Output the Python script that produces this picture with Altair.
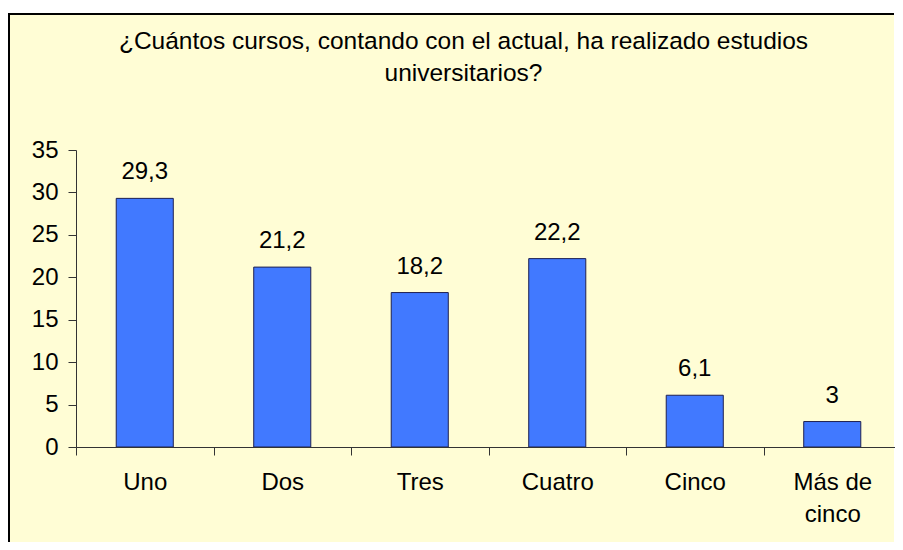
import altair as alt
import pandas as pd

categories = ["Uno", "Dos", "Tres", "Cuatro", "Cinco", "Más de cinco"]
values = [29.3, 21.2, 18.2, 22.2, 6.1, 3]
labels = ["29,3", "21,2", "18,2", "22,2", "6,1", "3"]
title_lines = ["¿Cuántos cursos, contando con el actual, ha realizado estudios",
               "universitarios?"]
y_ticks = [0, 5, 10, 15, 20, 25, 30, 35]

df = pd.DataFrame({"cat": categories, "val": values, "lab": labels})
frame_df = pd.DataFrame({"f": [0]})

FONT = "Liberation Sans"
BG = "#FFFDD5"
BAR = "#4179FF"
W, H = 825, 297
PAD_L, PAD_T, PAD_R = 68, 142, -6
SVG_H = 534
PAD_B = SVG_H - PAD_T - H

x_enc = alt.X(
    "cat:N", sort=categories,
    scale=alt.Scale(paddingInner=0, paddingOuter=0),
    axis=alt.Axis(
        title=None, labelAngle=0, tickBand="extent", tickSize=8,
        labelPadding=34, labelBaseline="alphabetic", labelLineHeight=32,
        labelFontSize=24, labelFont=FONT, labelColor="black",
        domainColor="#333333", tickColor="#333333", labelOverlap=False,
        labelExpr="datum.label == 'Más de cinco' ? ['Más de', 'cinco'] : datum.label",
        zindex=1,
    ),
)
y_enc = alt.Y(
    "val:Q", scale=alt.Scale(domain=[0, 35]),
    axis=alt.Axis(
        values=y_ticks, title=None, grid=False, tickSize=8, labelPadding=10,
        labelFontSize=24, labelFont=FONT, labelColor="black",
        domainColor="#333333", tickColor="#333333", zindex=1,
    ),
)

# chart frame: yellow fill, black border on the visible left and top sides
frame_fill = alt.Chart(frame_df).mark_rect(fill=BG, strokeWidth=0).encode(
    x=alt.value(-68), x2=alt.value(818), y=alt.value(-137), y2=alt.value(500)
)
frame_left = alt.Chart(frame_df).mark_rule(color="black", strokeWidth=2).encode(
    x=alt.value(-67), y=alt.value(-137), y2=alt.value(500)
)
frame_top = alt.Chart(frame_df).mark_rule(color="black", strokeWidth=2).encode(
    x=alt.value(-68), x2=alt.value(818), y=alt.value(-136)
)

bars = alt.Chart(df).mark_bar(
    width=alt.RelativeBandSize(0.415), color=BAR, stroke="#1F2050", strokeWidth=1
).encode(x=x_enc, y=y_enc)

text = alt.Chart(df).mark_text(
    dy=-19, baseline="alphabetic", fontSize=24, font=FONT, color="black"
).encode(x=alt.X("cat:N", sort=categories), y="val:Q", text="lab:N")

chart = alt.layer(frame_fill, frame_left, frame_top, bars, text).properties(
    width=W, height=H,
    title=alt.TitleParams(
        text=title_lines, fontSize=24.5, font=FONT, fontWeight="normal",
        color="black", anchor="middle", dx=-25, offset=-93, lineHeight=32,
        baseline="alphabetic", zindex=1,
    ),
    padding={"left": PAD_L, "top": PAD_T, "right": PAD_R, "bottom": PAD_B},
    autosize=alt.AutoSizeParams(type="none"),
).configure(background="white").configure_view(strokeWidth=0, stroke="transparent")

chart.save("out.html", embed_options={"renderer": "svg", "actions": False})
